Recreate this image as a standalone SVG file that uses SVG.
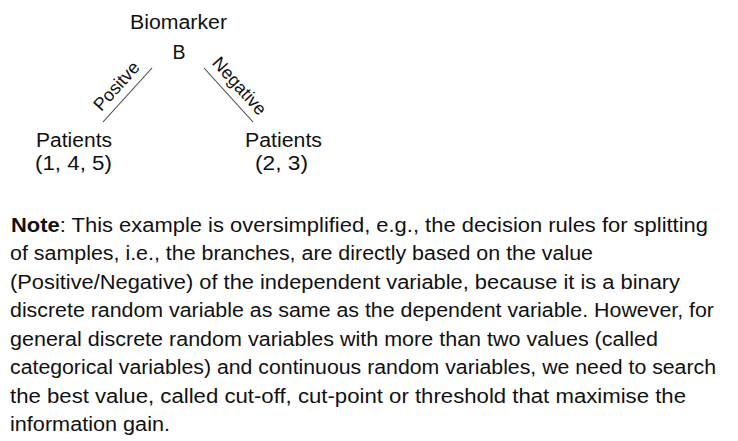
<svg xmlns="http://www.w3.org/2000/svg" width="738" height="441" viewBox="0 0 738 441">
<style>
text{font-family:"Liberation Sans",Arial,sans-serif;fill:#111}
.n{font-size:19.5px;text-anchor:middle}
.e{font-size:18px;text-anchor:middle}
.b{font-size:19.5px}
.c{stroke:#444;stroke-width:1.1;fill:none}
</style>
<rect width="738" height="441" fill="#fff"/>
<g id="root">
<text class="n" x="178.5" y="29" textLength="97" lengthAdjust="spacingAndGlyphs">Biomarker</text>
<text class="n" x="179" y="59">B</text>
</g>
<g id="left">
<text class="n" x="74" y="147" textLength="76" lengthAdjust="spacingAndGlyphs">Patients</text>
<text class="n" x="73.5" y="170" textLength="77" lengthAdjust="spacingAndGlyphs">(1, 4, 5)</text>
</g>
<g id="right">
<text class="n" x="283.5" y="147" textLength="77" lengthAdjust="spacingAndGlyphs">Patients</text>
<text class="n" x="281.5" y="170" textLength="53" lengthAdjust="spacingAndGlyphs">(2, 3)</text>
</g>
<g id="connectors">
<line class="c" x1="103" y1="122" x2="152" y2="68"/>
<line class="c" x1="204" y1="68" x2="253" y2="122"/>
<text class="e" transform="translate(121,90) rotate(-48)">Positve</text>
<text class="e" transform="translate(235,90) rotate(48)">Negative</text>
</g>
<g id="note">
<text class="b" x="11" y="232" textLength="697" lengthAdjust="spacingAndGlyphs"><tspan font-weight="bold">Note</tspan>: This example is oversimplified, e.g., the decision rules for splitting</text>
<text class="b" x="10" y="260" textLength="583" lengthAdjust="spacingAndGlyphs">of samples, i.e., the branches, are directly based on the value</text>
<text class="b" x="10" y="288.5" textLength="670" lengthAdjust="spacingAndGlyphs">(Positive/Negative) of the independent variable, because it is a binary</text>
<text class="b" x="10" y="317" textLength="704" lengthAdjust="spacingAndGlyphs">discrete random variable as same as the dependent variable. However, for</text>
<text class="b" x="10" y="345.5" textLength="648" lengthAdjust="spacingAndGlyphs">general discrete random variables with more than two values (called</text>
<text class="b" x="10" y="374" textLength="706" lengthAdjust="spacingAndGlyphs">categorical variables) and continuous random variables, we need to search</text>
<text class="b" x="10" y="402.5" textLength="676" lengthAdjust="spacingAndGlyphs">the best value, called cut-off, cut-point or threshold that maximise the</text>
<text class="b" x="10" y="431" textLength="160" lengthAdjust="spacingAndGlyphs">information gain.</text>
</g>
</svg>
